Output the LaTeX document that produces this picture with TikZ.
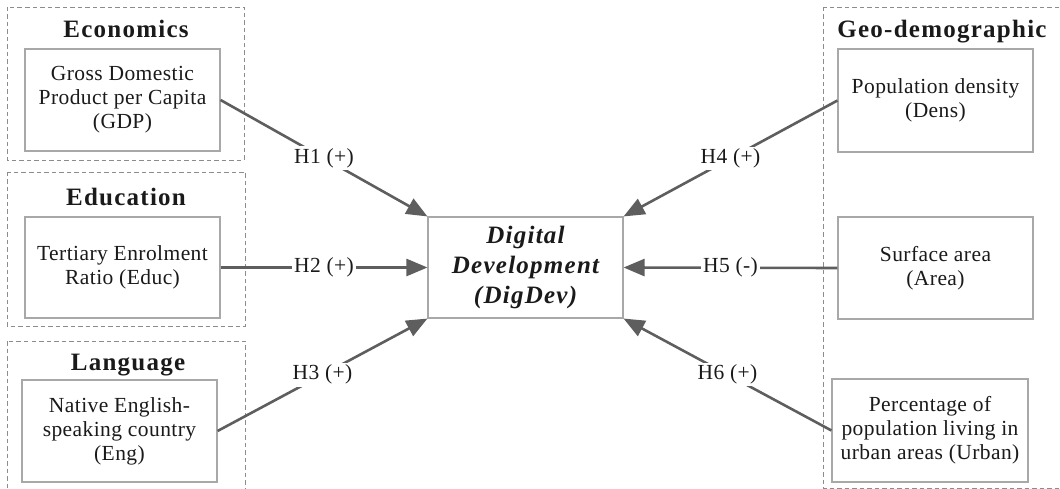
\documentclass[tikz,border=0pt]{standalone}
\usepackage{fontspec}
\setmainfont{Liberation Serif}[LetterSpace=2]
\usetikzlibrary{arrows.meta}
\definecolor{linegray}{HTML}{5E5E5E}
\definecolor{boxgray}{HTML}{A8A8A8}
\definecolor{dashgray}{HTML}{8C8C8C}
\definecolor{txt}{HTML}{1A1A1A}
\tikzset{
  varbox/.style={draw=boxgray, line width=1.1pt, fill=white, minimum width=195pt, minimum height=102pt, inner sep=0pt, align=center, text=txt, font=\fontsize{21.5}{24}\selectfont},
  groupbox/.style={draw=dashgray, line width=0.9pt, dash pattern=on 4.5pt off 3pt},
  grouptitle/.style={anchor=base, text=txt, font=\fontsize{25}{30}\selectfont\bfseries\addfontfeature{LetterSpace=5}, inner sep=0pt},
  hyp/.style={draw=linegray, line width=2.6pt, -{Triangle[length=21pt,width=17pt]}},
  hlabel/.style={fill=white, text=txt, font=\fontsize{21.5}{24}\selectfont, inner sep=2pt, midway},
}
\begin{document}
\begin{tikzpicture}[x=1pt,y=-1pt]
\useasboundingbox (0,0) rectangle (1060,489);
\begin{scope}
\clip (0,0) rectangle (1060,489);
% group boxes
\draw[groupbox] (7,7) rectangle (244,160);
\draw[groupbox] (7,172) rectangle (245,326);
\draw[groupbox] (7,341) rectangle (245,500);
\draw[groupbox] (823,7) rectangle (1075,488);
\end{scope}
% titles
\node[grouptitle] (tEco) at (126,38) {Economics};
\node[grouptitle] (tEdu) at (126,206) {Education};
\node[grouptitle] (tLan) at (128,370) {Language};
\node[grouptitle] (tGeo) at (942,38) {Geo-demographic};
% variable boxes
\node[varbox] (gdp) at (122.5,100) {Gross Domestic\\Product per Capita\\(GDP)};
\node[varbox, minimum height=101pt] (educ) at (122.5,267.5) {Tertiary Enrolment\\Ratio (Educ)};
\node[varbox] (eng) at (119.5,431) {Native English-\\speaking country\\(Eng)};
\node[varbox, minimum height=103pt] (dens) at (935.5,100.5) {Population density\\(Dens)};
\node[varbox] (area) at (935.5,268) {Surface area\\(Area)};
\node[varbox, minimum width=196pt, minimum height=103pt] (urban) at (930,430.5) {Percentage of\\population living in\\urban areas (Urban)};
\node[varbox, minimum height=101pt, font=\fontsize{25}{30}\selectfont\bfseries\itshape\addfontfeature{LetterSpace=5}] (dig) at (525.5,267.5) {Digital\\Development\\(DigDev)};
% hypotheses
\draw[hyp] (gdp.east) -- node[hlabel] {H1 (+)} (dig.north west);
\draw[hyp] (educ.east) -- node[hlabel] {H2 (+)} (dig.west);
\draw[hyp] (eng.east) -- node[hlabel] {H3 (+)} (dig.south west);
\draw[hyp] (dens.west) -- node[hlabel] {H4 (+)} (dig.north east);
\draw[hyp] (area.west) -- node[hlabel] {H5 (-)} (dig.east);
\draw[hyp] (urban.west) -- node[hlabel] {H6 (+)} (dig.south east);
\end{tikzpicture}
\end{document}
